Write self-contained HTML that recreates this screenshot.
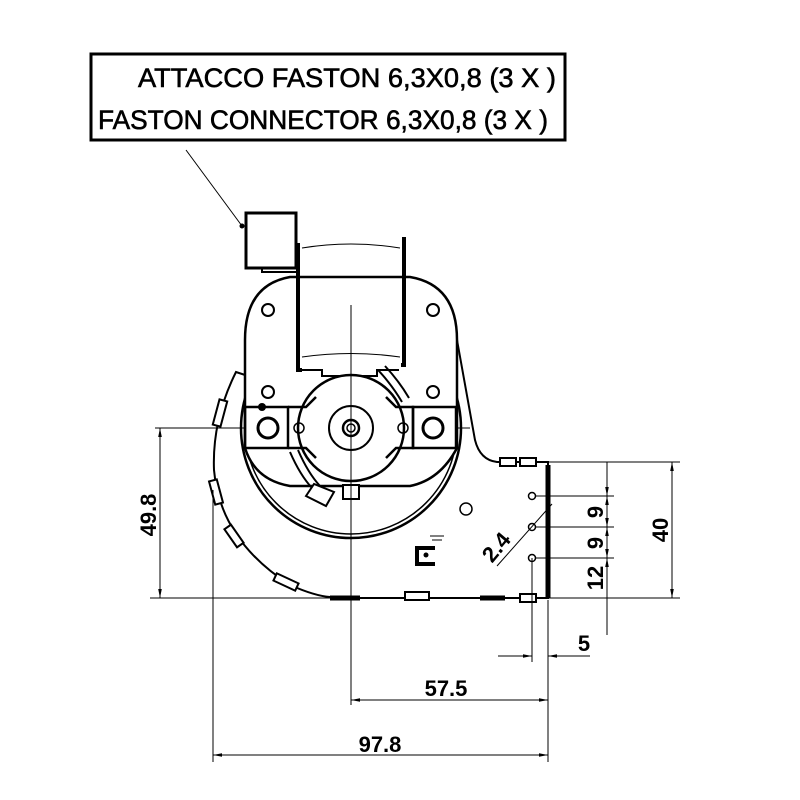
<!DOCTYPE html>
<html><head><style>body{margin:0;background:#fff}svg{display:block}text{font-family:"Liberation Sans",sans-serif;fill:#000}</style></head><body>
<svg width="800" height="800" viewBox="0 0 800 800" xmlns="http://www.w3.org/2000/svg">
<defs><marker id="a" viewBox="0 0 10 10" refX="10" refY="5" markerWidth="9" markerHeight="9" orient="auto-start-reverse"><path d="M0,3L10,5L0,7z" fill="#000"/></marker></defs>
<rect x="91" y="54" width="474" height="86" fill="none" stroke="#000" stroke-width="3"/>
<text x="138" y="87" font-size="27" stroke="#000" stroke-width="0.6" textLength="418" lengthAdjust="spacingAndGlyphs">ATTACCO FASTON 6,3X0,8 (3 X )</text>
<text x="98" y="129" font-size="27" stroke="#000" stroke-width="0.6" textLength="450" lengthAdjust="spacingAndGlyphs">FASTON CONNECTOR 6,3X0,8 (3 X )</text>
<line x1="186" y1="150" x2="242" y2="226" stroke="#000" stroke-width="1"/>
<circle cx="242" cy="226" r="2.5"/>
<g fill="none" stroke="#000">
<path d="M245,340V375l-9,-3Q212,420 214,470Q220,540 290,585Q315,596 330,597" stroke-width="2"/>
<path d="M330,598h218V462h-51Q480,460 475,440L457,340" stroke-width="2"/>
<circle cx="351" cy="428" r="110" stroke-width="2.5"/><circle cx="351" cy="428" r="106" stroke-width="1.5"/>
<path d="M245,448V340Q245,285 290,277H410Q457,285 457,340V448Q440,480 410,486H290Q255,480 245,448z" fill="#fff" stroke-width="2.5"/>
<rect x="246" y="213" width="50" height="55" stroke-width="3"/>
<path d="M262,268v4h34" stroke-width="2"/>
<path d="M298,243V370h4M404,237V365h-3" stroke-width="4"/>
<path d="M302,370h20v6h55v-6h22" stroke-width="2"/>
<path d="M302,248Q351,240 400,248M302,357Q351,350 400,357" stroke-width="1"/>
<circle cx="268" cy="310" r="6" stroke-width="2"/><circle cx="433" cy="310" r="6" stroke-width="2"/>
<circle cx="268" cy="392" r="6" stroke-width="2"/><circle cx="433" cy="392" r="6" stroke-width="2"/>
<rect x="245" y="407" width="43" height="41" stroke-width="2.5"/>
<rect x="413" y="407" width="43" height="41" stroke-width="2.5"/>
<circle cx="351" cy="428" r="53" fill="#fff" stroke-width="2.5"/>
<path d="M288,407h18l10,-10M386,397l10,10h17v41h-17l-10,10M316,458l-10,-10h-18" stroke-width="2.5"/>
<circle cx="351" cy="428" r="22" stroke-width="2"/>
<circle cx="351" cy="428" r="8" stroke-width="2.5"/><circle cx="351" cy="428" r="4" stroke-width="1.5"/>
<circle cx="268" cy="428" r="10" stroke-width="3"/><circle cx="433" cy="428" r="10" stroke-width="3"/>
<circle cx="299" cy="428" r="5" stroke-width="1.5"/><circle cx="403" cy="428" r="5" stroke-width="1.5"/>
<rect x="343" y="485" width="16" height="14" fill="#fff" stroke-width="2"/>
<path d="M306,496l8,-12l20,8l-8,14z" fill="#fff" stroke-width="2"/>
<path d="M378,370Q392,385 402,402M385,366Q399,381 409,398" stroke-width="2"/>
<path d="M290,452Q300,475 312,488M298,450Q308,473 320,486" stroke-width="2"/>
<circle cx="466" cy="509" r="6" stroke-width="1.5"/>
<path d="M435,548h-18v16h18" stroke-width="4"/>
<path d="M430,536h14M432,540h10" stroke-width="1"/>
<path d="M330,598h30M480,598h25M548,465v133" stroke-width="5"/>
<circle cx="532" cy="496" r="3.5" stroke-width="1.5"/><circle cx="532" cy="527" r="3.5" stroke-width="1.5"/><circle cx="532" cy="558" r="3.5" stroke-width="1.5"/>
</g>
<circle cx="426" cy="555" r="2.5"/>
<circle cx="262" cy="407" r="4"/>
<g fill="#fff" stroke="#000" stroke-width="2">
<rect x="216" y="400" width="8" height="26" transform="rotate(15 220 413)"/>
<rect x="212" y="480" width="8" height="24" transform="rotate(-15 216 492)"/>
<rect x="230" y="525" width="8" height="22" transform="rotate(-35 234 536)"/>
<rect x="282" y="570" width="8" height="24" transform="rotate(-65 286 582)"/>
<rect x="405" y="592" width="24" height="8"/>
<rect x="500" y="458" width="16" height="8"/><rect x="520" y="458" width="16" height="8"/>
<rect x="520" y="594" width="16" height="8"/>
</g>
<g stroke="#000" stroke-width="1" fill="none">
<path d="M351,305V705M155,428H245M456,428H470M150,598H330"/>
<path d="M213,490V762M548,600V762M548,462H680M548,598H680M532,558V662"/>
<path d="M536,496H614M536,527H614M536,558H614M548,662V680"/>
<line x1="160" y1="428" x2="160" y2="598" marker-start="url(#a)" marker-end="url(#a)"/>
<line x1="351" y1="700" x2="548" y2="700" marker-start="url(#a)" marker-end="url(#a)"/>
<line x1="213" y1="755" x2="548" y2="755" marker-start="url(#a)" marker-end="url(#a)"/>
<line x1="672" y1="462" x2="672" y2="598" marker-start="url(#a)" marker-end="url(#a)"/>
<line x1="607" y1="462" x2="607" y2="496" marker-end="url(#a)"/>
<line x1="607" y1="496" x2="607" y2="527" marker-start="url(#a)" marker-end="url(#a)"/>
<line x1="607" y1="527" x2="607" y2="558" marker-start="url(#a)" marker-end="url(#a)"/>
<line x1="607" y1="635" x2="607" y2="558" marker-end="url(#a)"/>
<line x1="498" y1="656" x2="532" y2="656" marker-end="url(#a)"/>
<line x1="590" y1="656" x2="548" y2="656" marker-end="url(#a)"/>
<line x1="497" y1="566" x2="552" y2="504"/>
</g>
<g font-size="22" font-weight="bold">
<text x="0" y="0" transform="translate(156,515) rotate(-90)" text-anchor="middle">49.8</text>
<text x="446" y="696" text-anchor="middle">57.5</text>
<text x="380" y="752" text-anchor="middle">97.8</text>
<text x="0" y="0" transform="translate(668,530) rotate(-90)" text-anchor="middle">40</text>
<text x="0" y="0" transform="translate(603,512) rotate(-90)" text-anchor="middle">9</text>
<text x="0" y="0" transform="translate(603,543) rotate(-90)" text-anchor="middle">9</text>
<text x="0" y="0" transform="translate(603,578) rotate(-90)" text-anchor="middle">12</text>
<text x="584" y="651" text-anchor="middle">5</text>
<text x="0" y="0" transform="translate(502,552) rotate(-50)" text-anchor="middle">2.4</text>
</g>
</svg>
</body></html>
